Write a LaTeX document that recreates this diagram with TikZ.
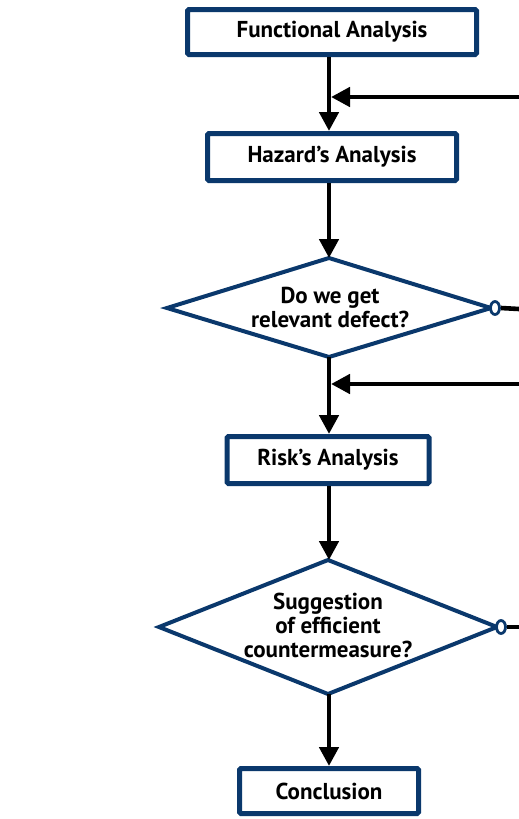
\documentclass[tikz,border=0pt]{standalone}
\usepackage{fontspec}
\setmainfont{PT Sans}
\usetikzlibrary{arrows.meta,shapes.geometric}
\definecolor{navy}{RGB}{10,56,108}
\begin{document}
\begin{tikzpicture}[x=1pt,y=-1pt,
  txt/.style={font=\bfseries\fontsize{23}{24}\selectfont,align=center,inner sep=0pt},
  box/.style={txt,draw=navy,line width=5pt,rounded corners=1.5pt,fill=white},
  dia/.style={draw=navy,line width=4pt,fill=white,line join=miter},
  arr/.style={line width=4.6pt,-{Triangle[length=19pt,width=19pt]}},
  ln/.style={line width=4.6pt},
  knob/.style={ellipse,draw=navy,line width=2.8pt,fill=white,inner sep=0pt,minimum width=9pt,minimum height=13pt}]
\useasboundingbox (0,0) rectangle (519,819);
\coordinate (sp) at (329,0);
% boxes
\node[box,minimum width=289pt,minimum height=45pt] (fa) at (332,32) {Functional Analysis};
\node[box,minimum width=249pt,minimum height=47pt] (ha) at (332,157) {Hazard’s Analysis};
\node[box,minimum width=202pt,minimum height=47pt] (ra) at (328,460) {Risk’s Analysis};
\node[box,minimum width=179pt,minimum height=45pt] (co) at (329,791) {Conclusion};
% diamond 1
\coordinate (d1n) at (329,258);
\coordinate (d1s) at (329,357);
\coordinate (d1w) at (167,308);
\coordinate (d1e) at (491,308);
\draw[dia] (d1n) -- (d1e) -- (d1s) -- (d1w) -- cycle;
\node[txt] (d1) at (330,307) {Do we get\\relevant defect?};
% diamond 2
\coordinate (d2n) at (328,560);
\coordinate (d2s) at (328,694);
\coordinate (d2w) at (159,627);
\coordinate (d2e) at (497,627);
\draw[dia] (d2n) -- (d2e) -- (d2s) -- (d2w) -- cycle;
\node[txt] (d2) at (328,625) {Suggestion\\of efficient\\countermeasure?};
% knobs
\node[knob] (k1) at ([xshift=4pt]d1e) {};
\node[knob] (k2) at ([xshift=4pt]d2e) {};
\coordinate (e1) at (519,97);
\coordinate (j1) at (sp |- e1);
\coordinate (e2) at (519,384);
\coordinate (j2) at (sp |- e2);
\coordinate (e3) at (519,309);
\coordinate (e4) at (519,627);
% connectors
\draw[arr] (fa.south -| sp) -- (ha.north -| sp);
\draw[arr] (e1) -- ([xshift=2pt]j1);
\draw[arr] (ha.south -| sp) -- (d1n -| sp);
\draw[arr] (d1s -| sp) -- (ra.north -| sp);
\draw[arr] (e2) -- ([xshift=2pt]j2);
\draw[arr] (ra.south -| sp) -- (d2n -| sp);
\draw[arr] (d2s -| sp) -- (co.north -| sp);
\draw[ln] (k1.east) -- (e3);
\draw[ln] (k2.east) -- (e4);
\end{tikzpicture}
\end{document}
